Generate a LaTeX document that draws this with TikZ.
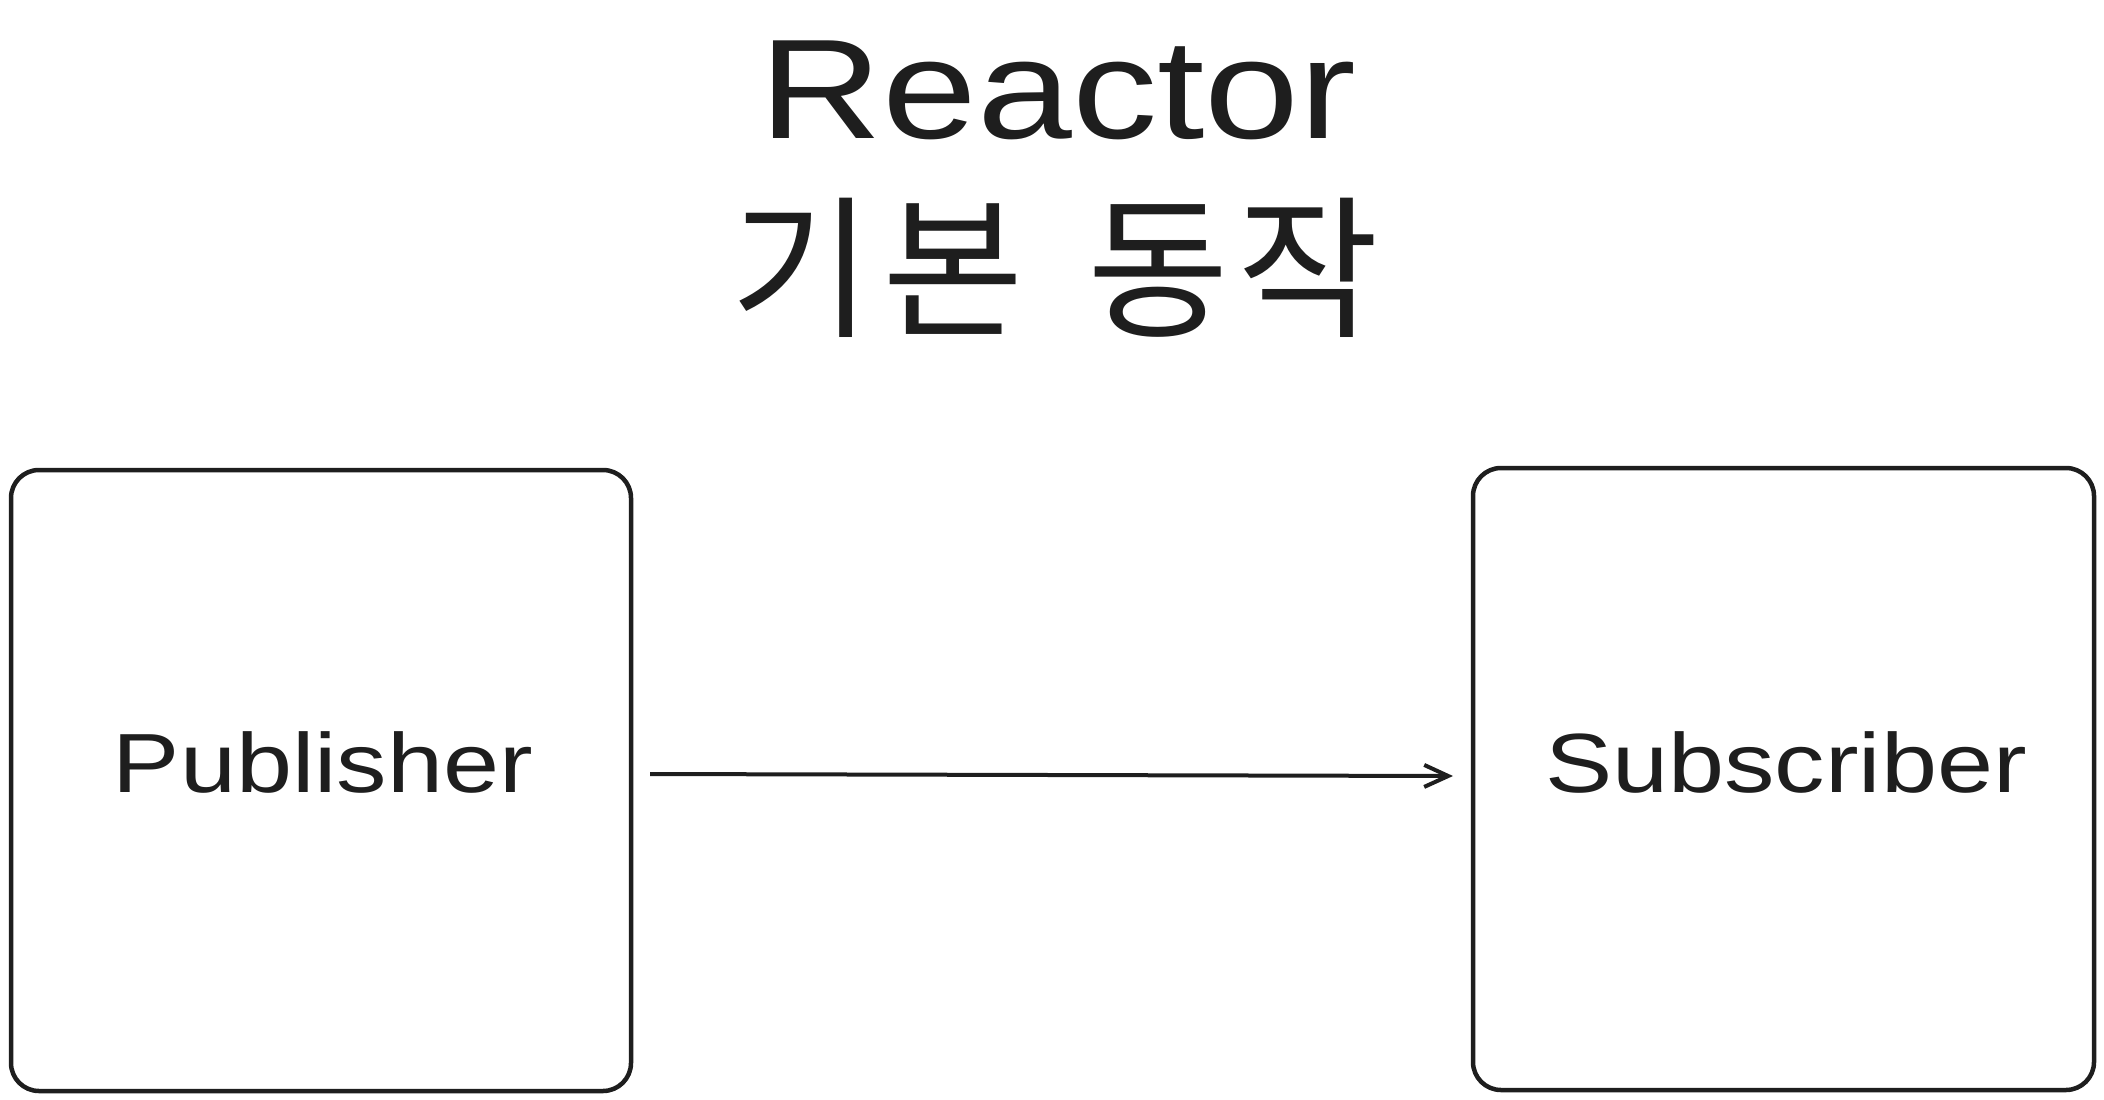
\documentclass[tikz,border=0pt]{standalone}
\usepackage{fontspec}
\setmainfont{Liberation Sans}
\newfontfamily\krfont{Noto Sans CJK KR}
\usetikzlibrary{arrows.meta}
\definecolor{ink}{HTML}{1E1E1E}
\begin{document}
\begin{tikzpicture}[x=1pt,y=-1pt,
  box/.style={draw=ink,line width=4.5pt,rounded corners=28pt},
  lbl/.style={text=ink,inner sep=0pt,anchor=base,xscale=1.2,font=\fontsize{84}{90}\selectfont},
  conn/.style={draw=ink,line width=4pt,-{Straight Barb[length=24pt,width=22pt,line width=4pt]}}]
\useasboundingbox (0,0) rectangle (2104,1100);
\node[text=ink,inner sep=0pt,font=\fontsize{142}{150}\selectfont,xscale=1.2,anchor=base] (title) at (1058,138) {Reactor};
\node[text=ink,inner sep=0pt,font=\krfont\fontsize{154}{160}\selectfont] (sub) at (1055,268) {기\kern10pt 본\kern64pt 동\kern8pt 작};
\draw[box] (11,470) rectangle (631,1091);
\node (pub) at (321,780) {};
\draw[box] (1473,468) rectangle (2094,1090);
\node (sbs) at (1783,779) {};
\node[lbl] (publbl) at (323,792) {Publisher};
\node[lbl] (sublbl) at (1786,792) {Subscriber};
\coordinate (a1) at (650,774);
\coordinate (a2) at (1453,776);
\draw[conn] (a1) -- (a2);
\end{tikzpicture}
\end{document}
